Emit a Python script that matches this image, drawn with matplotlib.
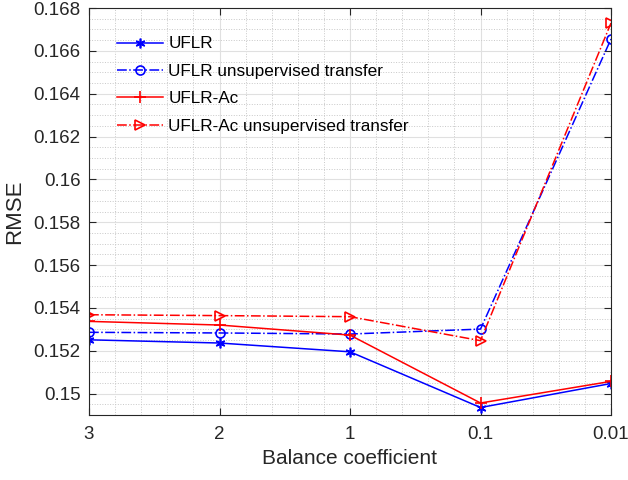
import numpy as np
import matplotlib.pyplot as plt
from matplotlib.ticker import MultipleLocator, FuncFormatter

plt.rcParams['font.family'] = ['Liberation Sans', 'DejaVu Sans']

xlabels = ['3', '2', '1', '0.1', '0.01']
xpos = np.arange(1, len(xlabels) + 1)

uflr = [0.15251, 0.15236, 0.15195, 0.14935, 0.15047]
uflr_transfer = [0.15286, 0.15283, 0.15278, 0.15301, 0.16655]
uflr_ac = [0.15337, 0.15320, 0.15273, 0.14956, 0.15057]
uflr_ac_transfer = [0.15368, 0.15364, 0.15359, 0.15247, 0.16730]

fig = plt.figure(figsize=(6.28, 4.8), dpi=100)
ax = fig.add_axes([89 / 628, 65 / 480, 522 / 628, 407 / 480])

asterisk = (6, 2, 0)
ax.plot(xpos, uflr, '-', color='blue', marker=asterisk, ms=7, mew=1.2, lw=1.1, label='UFLR')
ax.plot(xpos, uflr_transfer, '-.', color='blue', marker='o', ms=6.5, mfc='none', mew=1.2, lw=1.1,
        label='UFLR unsupervised transfer')
ax.plot(xpos, uflr_ac, '-', color='red', marker='+', ms=8, mew=1.2, lw=1.1, label='UFLR-Ac')
ax.plot(xpos, uflr_ac_transfer, '-.', color='red', marker='>', ms=7, mfc='none', mew=1.2, lw=1.1,
        label='UFLR-Ac unsupervised transfer')

ax.set_xlim(1, 5)
ax.set_ylim(0.149, 0.168)
ax.set_xticks(xpos)
ax.set_xticklabels(xlabels)
ax.yaxis.set_major_locator(MultipleLocator(0.002))
ax.yaxis.set_major_formatter(FuncFormatter(lambda v, p: '%g' % round(v, 4)))
ax.xaxis.set_minor_locator(MultipleLocator(0.2))
ax.yaxis.set_minor_locator(MultipleLocator(0.0005))

ax.grid(which='major', color='#e0e0e0', lw=0.8)
ax.grid(which='minor', color='#c8c8c8', ls=':', lw=0.7)
ax.set_axisbelow(True)
ax.tick_params(which='both', direction='in', top=True, right=True, labelsize=13.5, colors='#262626')
ax.tick_params(which='minor', length=0)
ax.tick_params(which='major', length=5)
ax.tick_params(axis='y', pad=6)
ax.tick_params(axis='x', pad=8)
for s in ax.spines.values():
    s.set_color('#262626')

ax.set_xlabel('Balance coefficient', fontsize=15, color='#262626', labelpad=4)
ax.set_ylabel('RMSE', fontsize=16, color='#262626', labelpad=6)

ax.legend(loc='upper left', frameon=False, fontsize=12.3, handlelength=2.7,
          bbox_to_anchor=(0.0536, 0.93), borderaxespad=0, borderpad=0,
          labelspacing=0.73, handletextpad=0.3, markerscale=1.0)

fig.savefig('out.png', dpi=100)
